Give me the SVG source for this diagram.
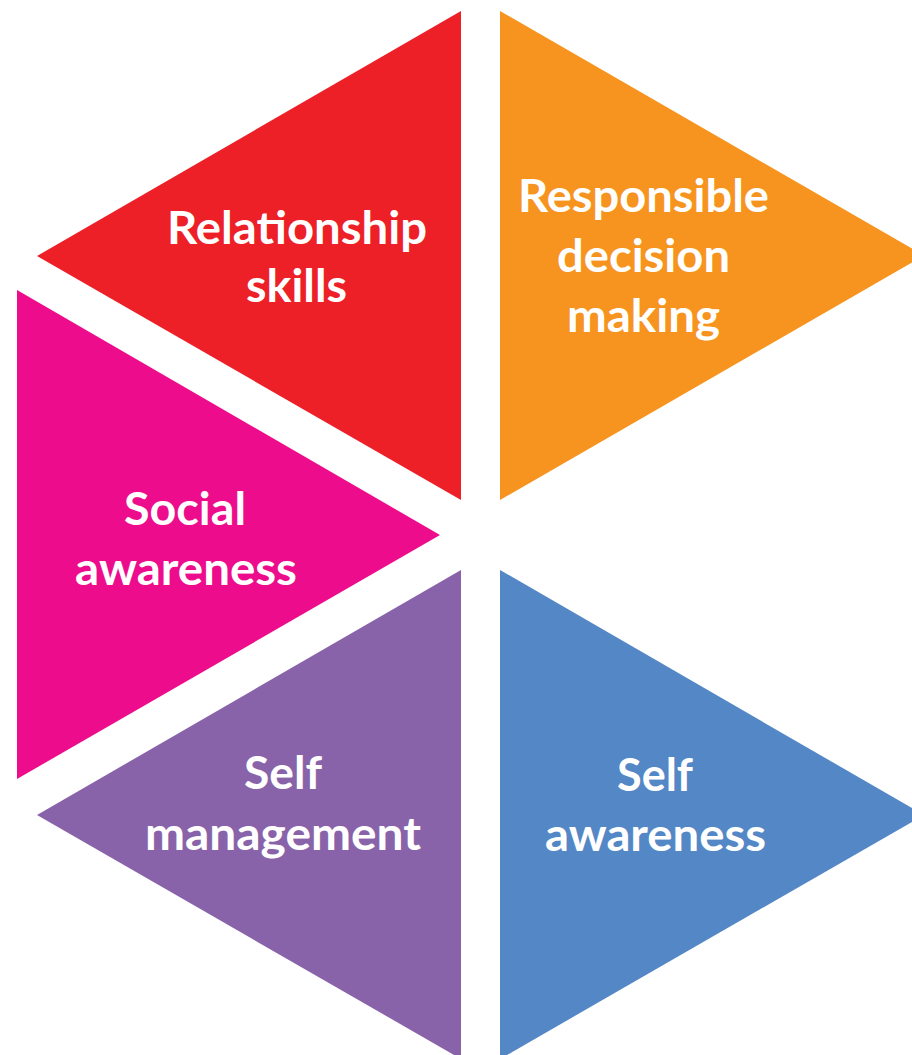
<svg xmlns="http://www.w3.org/2000/svg" width="912" height="1055" viewBox="0 0 912 1055">
<style>
.t{fill:#ffffff;font-family:Lato,"Open Sans","Liberation Sans",sans-serif;font-weight:bold;font-size:46px;text-anchor:middle}
</style>
<rect x="0" y="0" width="912" height="1055" fill="#ffffff"/>
<g id="relationship">
<polygon points="461,11 37,256 461,500" fill="#ED1F27"/>
<text class="t" x="297" y="244" textLength="260" lengthAdjust="spacingAndGlyphs">Relationship</text>
<text class="t" x="296.5" y="302" textLength="101" lengthAdjust="spacingAndGlyphs">skills</text>
</g>
<g id="responsible">
<polygon points="500,11 924,255.5 500,500" fill="#F7941F"/>
<text class="t" x="643.5" y="212" textLength="251" lengthAdjust="spacingAndGlyphs">Responsible</text>
<text class="t" x="643.5" y="272" textLength="173" lengthAdjust="spacingAndGlyphs">decision</text>
<text class="t" x="643.5" y="332" textLength="153" lengthAdjust="spacingAndGlyphs">making</text>
</g>
<g id="social">
<polygon points="17,290 440,535 17,779" fill="#EC0C8C"/>
<text class="t" x="185" y="525" textLength="122" lengthAdjust="spacingAndGlyphs">Social</text>
<text class="t" x="186" y="585" textLength="222" lengthAdjust="spacingAndGlyphs">awareness</text>
</g>
<g id="selfmanagement">
<polygon points="461,570 37,815 461,1059" fill="#8963A9"/>
<text class="t" x="283" y="789" textLength="78" lengthAdjust="spacingAndGlyphs">Self</text>
<text class="t" x="283" y="850" textLength="276" lengthAdjust="spacingAndGlyphs">management</text>
</g>
<g id="selfawareness">
<polygon points="500,570 924,815 500,1059" fill="#5487C6"/>
<text class="t" x="655" y="791" textLength="76" lengthAdjust="spacingAndGlyphs">Self</text>
<text class="t" x="655.5" y="851" textLength="221" lengthAdjust="spacingAndGlyphs">awareness</text>
</g>
<g id="connectors"/>
</svg>
